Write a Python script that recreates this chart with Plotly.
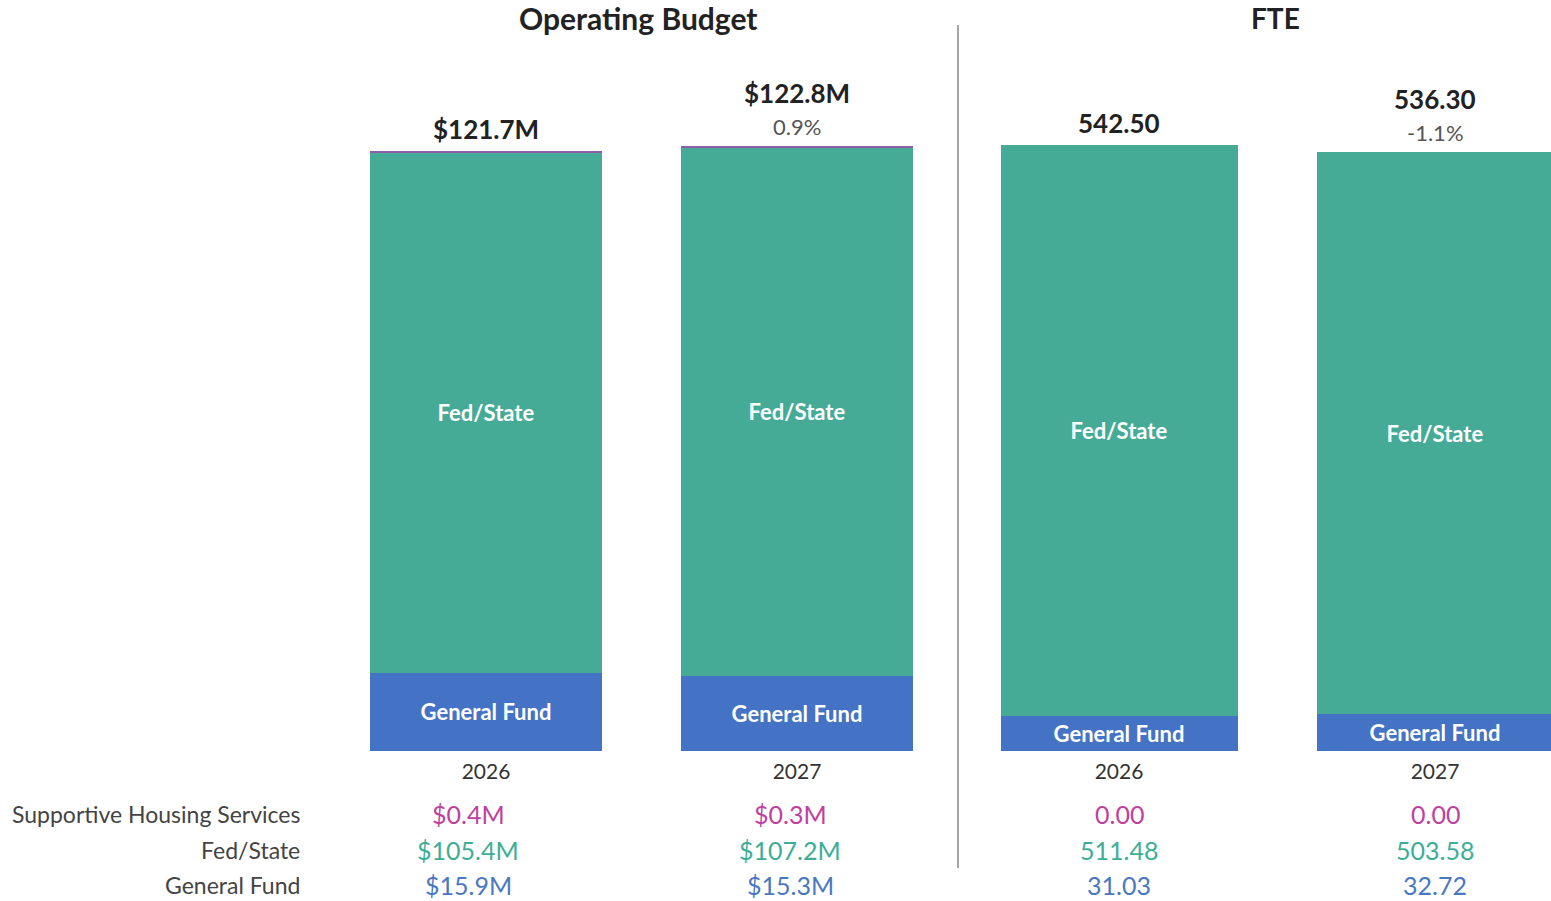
import plotly.graph_objects as go

years = ["2026", "2027"]
budget_general_fund = [15.9, 15.3]
budget_fed_state = [105.4, 107.2]
budget_shs = [0.4, 0.3]
budget_totals = ["$121.7M", "$122.8M"]
budget_change = ["", "0.9%"]

fte_general_fund = [31.03, 32.72]
fte_fed_state = [511.48, 503.58]
fte_shs = [0.00, 0.00]
fte_totals = ["542.50", "536.30"]
fte_change = ["", "-1.1%"]

row_labels = ["Supportive Housing Services", "Fed/State", "General Fund"]

C_GF = "#4472C4"
C_FS = "#45AB97"
C_SHS = "#8E5FA8"
T_SHS = "#C0409E"
T_FS = "#3DAE95"
T_GF = "#4A78C0"
FONT = "Lato"

W, H = 1551, 901
bottom_px = 751
top_px = 60
ydom = [(H - bottom_px) / H, (H - top_px) / H]
left_scale = 4.93   # px per $M
right_scale = 1.117  # px per FTE

fig = go.Figure()
xs = [0, 1]

def add_stack(gf, fs, shs, xaxis, yaxis, width):
    fig.add_trace(go.Bar(x=xs, y=gf, marker_color=C_GF, width=width, xaxis=xaxis, yaxis=yaxis,
                         text=["<b>General Fund</b>"] * 2, textposition="inside", insidetextanchor="middle",
                         textangle=0, insidetextfont=dict(color="white", size=22, family=FONT),
                         marker_line_width=0, showlegend=False, hoverinfo="skip"))
    fig.add_trace(go.Bar(x=xs, y=fs, marker_color=C_FS, width=width, xaxis=xaxis, yaxis=yaxis,
                         text=["<b>Fed/State</b>"] * 2, textposition="inside", insidetextanchor="middle",
                         textangle=0, insidetextfont=dict(color="white", size=22, family=FONT),
                         marker_line_width=0, showlegend=False, hoverinfo="skip"))
    fig.add_trace(go.Bar(x=xs, y=shs, marker_color=C_SHS, width=width, xaxis=xaxis, yaxis=yaxis,
                         marker_line_width=0, showlegend=False, hoverinfo="skip"))

add_stack(budget_general_fund, budget_fed_state, budget_shs, "x", "y", 0.746)
add_stack(fte_general_fund, fte_fed_state, fte_shs, "x2", "y2", 0.75)

x1_dom = [330 / W, 950 / W]
x1_rng = [(330 - 486) / 311, (950 - 486) / 311]
x2_dom = [965 / W, 1.0]
x2_rng = [(965 - 1119) / 316, (1551 - 1119) / 316]

axis_common = dict(showgrid=False, zeroline=False, showline=False, ticks="", ticklabelstandoff=6)
fig.update_layout(
    barmode="stack",
    width=W, height=H,
    margin=dict(l=0, r=0, t=0, b=0),
    plot_bgcolor="white", paper_bgcolor="white",
    font=dict(family=FONT, color="#333333"),
    xaxis=dict(domain=x1_dom, range=x1_rng, tickvals=xs, ticktext=years,
               tickfont=dict(size=21, color="#333333", family=FONT), **axis_common),
    xaxis2=dict(domain=x2_dom, range=x2_rng, tickvals=xs, ticktext=years, anchor="y2",
                tickfont=dict(size=21, color="#333333", family=FONT), **axis_common),
    yaxis=dict(domain=ydom, range=[0, (bottom_px - top_px) / left_scale], visible=False),
    yaxis2=dict(domain=ydom, range=[0, (bottom_px - top_px) / right_scale], visible=False, anchor="x2"),
    uniformtext=dict(minsize=8, mode="show"),
)

ann = []

def top_labels(gf, fs, shs, totals, change, xref, yref):
    for i in range(2):
        tot = gf[i] + fs[i] + shs[i]
        if change[i]:
            ann.append(dict(x=xs[i], y=tot, xref=xref, yref=yref, text=change[i], showarrow=False,
                            xanchor="center", yanchor="middle", yshift=19,
                            font=dict(size=22, color="#555555", family=FONT)))
            ann.append(dict(x=xs[i], y=tot, xref=xref, yref=yref, text="<b>" + totals[i] + "</b>", showarrow=False,
                            xanchor="center", yanchor="middle", yshift=53,
                            font=dict(size=26, color="#222222", family=FONT)))
        else:
            ann.append(dict(x=xs[i], y=tot, xref=xref, yref=yref, text="<b>" + totals[i] + "</b>", showarrow=False,
                            xanchor="center", yanchor="middle", yshift=22,
                            font=dict(size=26, color="#222222", family=FONT)))

top_labels(budget_general_fund, budget_fed_state, budget_shs, budget_totals, budget_change, "x", "y")
top_labels(fte_general_fund, fte_fed_state, fte_shs, fte_totals, fte_change, "x2", "y2")

ann.append(dict(x=638 / W, y=1 - 18 / H, xref="paper", yref="paper", text="<b>Operating Budget</b>",
                showarrow=False, font=dict(size=30, color="#222222", family=FONT),
                xanchor="center", yanchor="middle"))
ann.append(dict(x=1275 / W, y=1 - 18 / H, xref="paper", yref="paper", text="<b>FTE</b>",
                showarrow=False, font=dict(size=28, color="#222222", family=FONT),
                xanchor="center", yanchor="middle"))

row_y = [814, 850, 885]
for lbl, yy in zip(row_labels, row_y):
    ann.append(dict(x=302 / W, y=1 - yy / H, xref="paper", yref="paper", text=lbl, xanchor="right",
                    yanchor="middle", showarrow=False, font=dict(size=23, color="#444444", family=FONT)))

def fmt_m(v):
    return "${:.1f}M".format(v)

def fmt_f(v):
    return "{:.2f}".format(v)

budget_rows = [(budget_shs, T_SHS), (budget_fed_state, T_FS), (budget_general_fund, T_GF)]
fte_rows = [(fte_shs, T_SHS), (fte_fed_state, T_FS), (fte_general_fund, T_GF)]
shifts = [-18, -7]
for (vals, col), yy in zip(budget_rows, row_y):
    for i in range(2):
        ann.append(dict(x=xs[i], y=1 - yy / H, xref="x", yref="paper", text=fmt_m(vals[i]), xshift=shifts[i],
                        xanchor="center", yanchor="middle", showarrow=False,
                        font=dict(size=25, color=col, family=FONT)))
for (vals, col), yy in zip(fte_rows, row_y):
    for i in range(2):
        ann.append(dict(x=xs[i], y=1 - yy / H, xref="x2", yref="paper", text=fmt_f(vals[i]),
                        xanchor="center", yanchor="middle", showarrow=False,
                        font=dict(size=25, color=col, family=FONT)))

fig.update_layout(annotations=ann)

fig.add_shape(type="line", xref="paper", yref="paper", x0=958 / W, x1=958 / W,
              y0=1 - 868 / H, y1=1 - 25 / H, line=dict(color="#888888", width=1.5))

fig.write_html("out.html", config={"displayModeBar": False},
               post_script="document.body.style.margin='0';document.body.style.overflow='hidden';")
